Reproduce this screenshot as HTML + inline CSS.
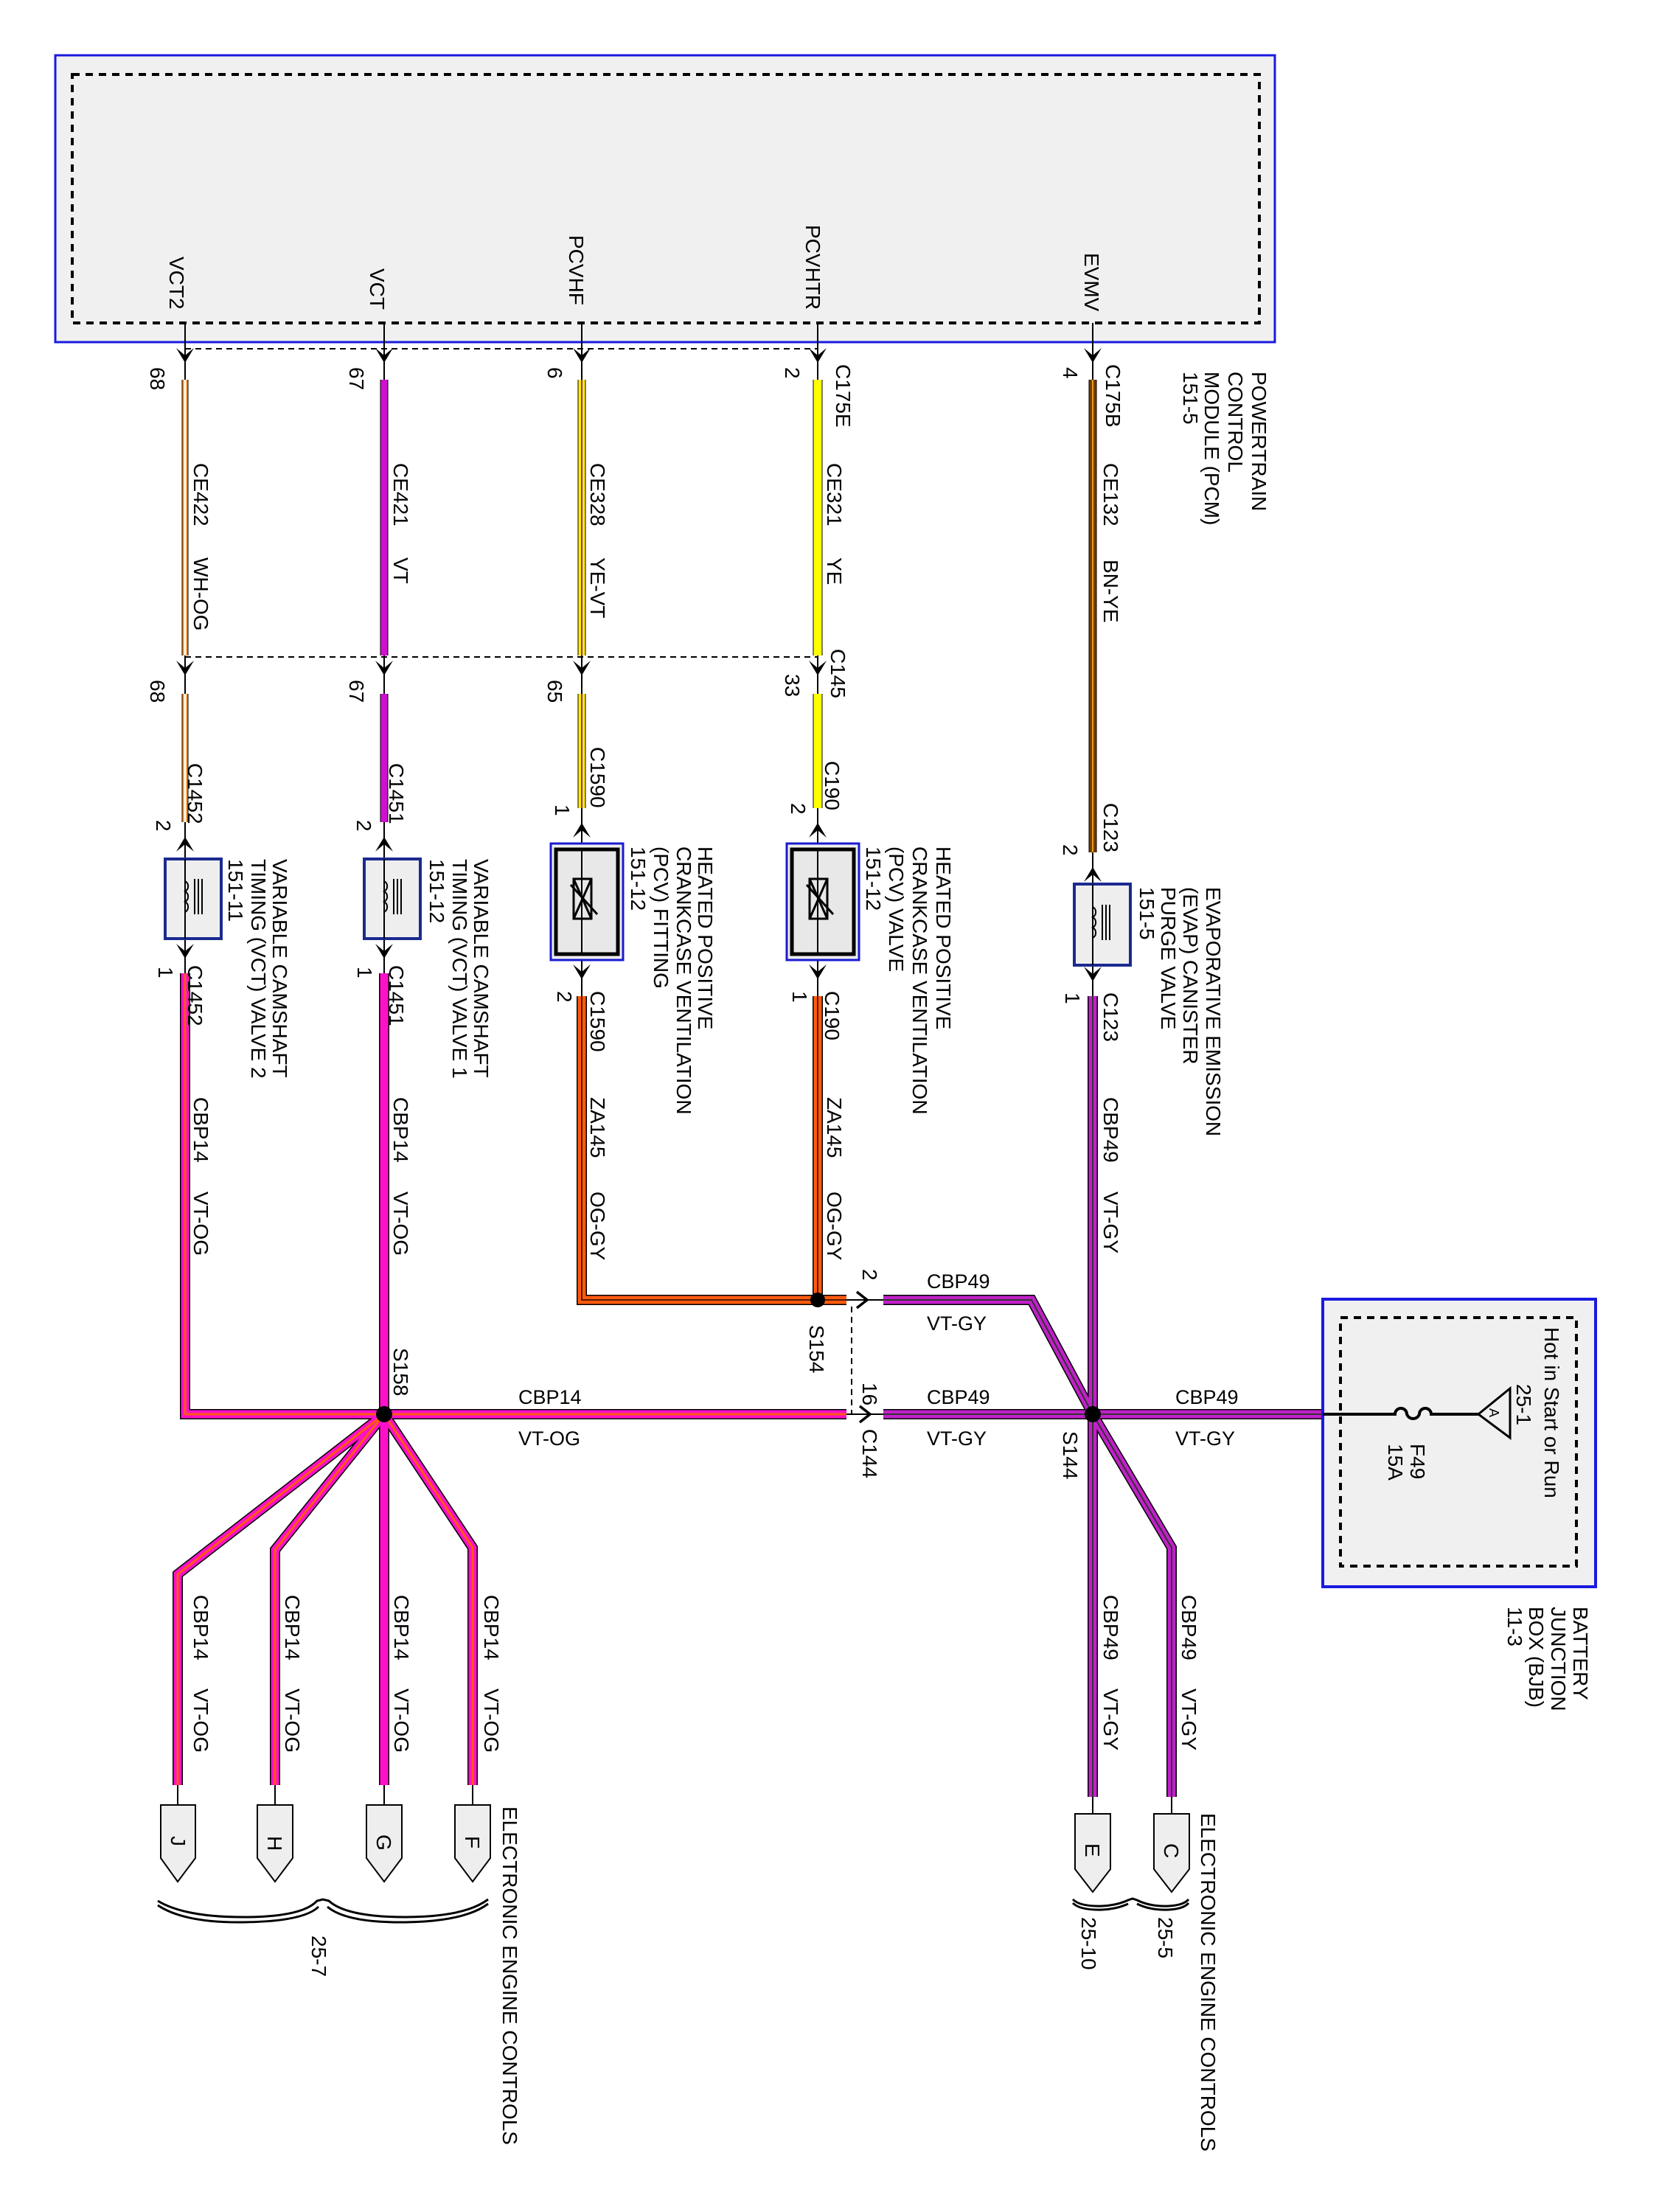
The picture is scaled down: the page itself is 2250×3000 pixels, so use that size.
<!DOCTYPE html>
<html><head><meta charset="utf-8"><style>
html,body{margin:0;padding:0;background:#fff}
svg{display:block}
text{font-family:"Liberation Sans",Arial,sans-serif;font-size:28px;fill:#000}
.h{font-size:27px}
</style></head><body>
<svg width="2250" height="3000" viewBox="0 0 2250 3000" xmlns="http://www.w3.org/2000/svg">
<defs>
<g id="ad"><polygon points="-12,-20 0,0 12,-20 0,-10" fill="#000"/></g>
<g id="au"><polygon points="-12,20 0,0 12,20 0,10" fill="#000"/></g>
<g id="ar"><polyline points="-14,-11 0,0 -14,11" fill="none" stroke="#000" stroke-width="3.5"/></g>
</defs>

<rect x="75" y="75" width="1654" height="389" fill="#f0f0f0" stroke="#1a1ae0" stroke-width="3"/>
<rect x="98" y="101" width="1610" height="337" fill="none" stroke="#000" stroke-width="4" stroke-dasharray="10,8"/>
<g transform="translate(230,348) rotate(90)"><text>VCT2</text></g>
<g transform="translate(502,364) rotate(90)"><text>VCT</text></g>
<g transform="translate(772,319) rotate(90)"><text>PCVHF</text></g>
<g transform="translate(1093,305) rotate(90)"><text>PCVHTR</text></g>
<g transform="translate(1471,343) rotate(90)"><text>EVMV</text></g>
<g transform="translate(1698,504) rotate(90)"><text>POWERTRAIN</text></g>
<g transform="translate(1666,504) rotate(90)"><text>CONTROL</text></g>
<g transform="translate(1634,504) rotate(90)"><text>MODULE (PCM)</text></g>
<g transform="translate(1605,504) rotate(90)"><text>151-5</text></g>

<line x1="251" y1="473" x2="1109" y2="473" stroke="#000" stroke-width="2" stroke-dasharray="8,6"/>
<line x1="251" y1="891" x2="1109" y2="891" stroke="#000" stroke-width="2" stroke-dasharray="8,6"/>

<g stroke="#000" stroke-width="2">
<line x1="251" y1="438" x2="251" y2="1330"/>
<line x1="521" y1="438" x2="521" y2="1330"/>
<line x1="789" y1="438" x2="789" y2="1360"/>
<line x1="1109" y1="438" x2="1109" y2="1360"/>
<line x1="1482" y1="438" x2="1482" y2="1360"/>
<line x1="1148" y1="1763" x2="1200" y2="1763"/>
<line x1="1148" y1="1918" x2="1200" y2="1918"/>
<line x1="241" y1="2421" x2="241" y2="2450"/>
<line x1="373" y1="2421" x2="373" y2="2450"/>
<line x1="521" y1="2421" x2="521" y2="2450"/>
<line x1="641" y1="2421" x2="641" y2="2450"/>
<line x1="1482" y1="2437" x2="1482" y2="2460"/>
<line x1="1589" y1="2437" x2="1589" y2="2460"/>
</g>
<line x1="1155" y1="1772" x2="1155" y2="1918" stroke="#000" stroke-width="2" stroke-dasharray="8,6"/>

<g fill="none">
<path d="M251,515V889M251,941V1115" stroke="#000" stroke-width="9"/>
<path d="M251,515V889M251,941V1115" stroke="#ff8c1a" stroke-width="7"/>
<path d="M251,515V889M251,941V1115" stroke="#fff" stroke-width="3"/>
<path d="M521,515V889M521,941V1115" stroke="#000" stroke-width="11"/>
<path d="M521,515V889M521,941V1115" stroke="#d010d0" stroke-width="9"/>
<path d="M789,515V889M789,941V1096" stroke="#000" stroke-width="11"/>
<path d="M789,515V889M789,941V1096" stroke="#ffee00" stroke-width="9"/>
<path d="M789,515V889M789,941V1096" stroke="#a020a0" stroke-width="2"/>
<path d="M1109,515V889M1109,941V1096" stroke="#000" stroke-width="13"/>
<path d="M1109,515V889M1109,941V1096" stroke="#ffff00" stroke-width="11"/>
<path d="M1482,515V1156" stroke="#000" stroke-width="11"/>
<path d="M1482,515V1156" stroke="#7a3a00" stroke-width="9"/>
<path d="M1482,515V1156" stroke="#e0a020" stroke-width="2"/>

<path d="M789,1351V1763H1109M1109,1351V1763H1148" stroke="#000" stroke-width="14"/>
<path d="M789,1351V1763H1109M1109,1351V1763H1148" stroke="#ff5a10" stroke-width="11"/>
<path d="M789,1351V1763H1109M1109,1351V1763H1148" stroke="#5a1a00" stroke-width="2"/>

<path d="M251,1320V1918H1148M521,1320V1918M521,1918L241,2135V2421M521,1918L373,2102V2421M521,1918V2421M521,1918L641,2099V2421" stroke="#000" stroke-width="14"/>
<path d="M251,1320V1918H1148M521,1320V1918M521,1918L241,2135V2421M521,1918L373,2102V2421M521,1918V2421M521,1918L641,2099V2421" stroke="#ff10c8" stroke-width="11"/>
<path d="M251,1320V1918H1148M521,1918L241,2135V2421M521,1918L373,2102V2421M521,1918L641,2099V2421" stroke="#ff5a10" stroke-width="3"/>

<path d="M1482,1351V2437M1198,1763H1399L1482,1918L1589,2099V2437M1198,1918H1794" stroke="#000" stroke-width="14"/>
<path d="M1482,1351V2437M1198,1763H1399L1482,1918L1589,2099V2437M1198,1918H1794" stroke="#c020c8" stroke-width="11"/>
<path d="M1482,1351V2437M1198,1763H1399L1482,1918L1589,2099V2437M1198,1918H1794" stroke="#333" stroke-width="2"/>
</g>

<use href="#ad" x="251" y="492"/><use href="#ad" x="521" y="492"/><use href="#ad" x="789" y="492"/><use href="#ad" x="1109" y="492"/><use href="#ad" x="1482" y="492"/>
<use href="#ad" x="251" y="916"/><use href="#ad" x="521" y="916"/><use href="#ad" x="789" y="916"/><use href="#ad" x="1109" y="916"/>
<use href="#au" x="251" y="1135"/><use href="#au" x="521" y="1135"/><use href="#au" x="789" y="1116"/><use href="#au" x="1109" y="1116"/><use href="#au" x="1482" y="1176"/>
<use href="#ad" x="251" y="1300"/><use href="#ad" x="521" y="1300"/><use href="#ad" x="789" y="1328"/><use href="#ad" x="1109" y="1328"/><use href="#ad" x="1482" y="1331"/>
<use href="#ar" x="1176" y="1763"/><use href="#ar" x="1180" y="1918"/>

<g>
<rect x="224" y="1165" width="76" height="108" fill="#eee" stroke="#1a2a90" stroke-width="4"/>
<rect x="494" y="1165" width="76" height="108" fill="#eee" stroke="#1a2a90" stroke-width="4"/>
<rect x="1457" y="1199" width="76" height="110" fill="#eee" stroke="#1a2a90" stroke-width="4"/>
<g fill="none" stroke="#000" stroke-width="2">
<line x1="251" y1="1165" x2="251" y2="1273"/><line x1="521" y1="1165" x2="521" y2="1273"/><line x1="1482" y1="1199" x2="1482" y2="1309"/>
<path d="M251,1195a8,8 0 0 1 0,14a8,8 0 0 1 0,14a8,8 0 0 1 0,14M264,1192v48M269,1192v48M274,1192v48"/>
<path d="M521,1195a8,8 0 0 1 0,14a8,8 0 0 1 0,14a8,8 0 0 1 0,14M534,1192v48M539,1192v48M544,1192v48"/>
<path d="M1482,1230a8,8 0 0 1 0,14a8,8 0 0 1 0,14a8,8 0 0 1 0,14M1495,1227v48M1500,1227v48M1505,1227v48"/>
</g>
</g>
<g>
<rect x="747" y="1144" width="98" height="158" fill="#eee" stroke="#1a1ad0" stroke-width="3"/>
<rect x="754" y="1152" width="84" height="142" fill="#e8e8e8" stroke="#000" stroke-width="5"/>
<line x1="789" y1="1152" x2="789" y2="1294" stroke="#000" stroke-width="2"/>
<rect x="778" y="1192" width="24" height="54" fill="none" stroke="#000" stroke-width="3"/>
<path d="M778,1192L802,1246M802,1192L778,1246M774,1200L810,1240" stroke="#000" stroke-width="3" fill="none"/>
<rect x="1067" y="1144" width="98" height="158" fill="#eee" stroke="#1a1ad0" stroke-width="3"/>
<rect x="1074" y="1152" width="84" height="142" fill="#e8e8e8" stroke="#000" stroke-width="5"/>
<line x1="1109" y1="1152" x2="1109" y2="1294" stroke="#000" stroke-width="2"/>
<rect x="1098" y="1192" width="24" height="54" fill="none" stroke="#000" stroke-width="3"/>
<path d="M1098,1192L1122,1246M1122,1192L1098,1246M1094,1200L1130,1240" stroke="#000" stroke-width="3" fill="none"/>
</g>

<circle cx="1109" cy="1763" r="10" fill="#000"/>
<circle cx="521" cy="1918" r="11" fill="#000"/>
<circle cx="1482" cy="1918" r="11" fill="#000"/>

<rect x="1794" y="1762" width="370" height="390" fill="#f0f0f0" stroke="#1a1ae0" stroke-width="4"/>
<rect x="1818" y="1787" width="320" height="337" fill="none" stroke="#000" stroke-width="4" stroke-dasharray="10,8"/>
<path d="M1794,1918H1892a8,8 0 0 1 16,0a9,9 0 0 0 17,0a8,8 0 0 1 16,0H2005" fill="none" stroke="#000" stroke-width="4"/>
<polygon points="2005,1918 2048,1883 2048,1950" fill="none" stroke="#000" stroke-width="3"/>
<g transform="translate(2020,1910) rotate(90)"><text style="font-size:18px">A</text></g>
<g transform="translate(2095,1800) rotate(90)"><text>Hot in Start or Run</text></g>
<g transform="translate(2057,1877) rotate(90)"><text>25-1</text></g>
<g transform="translate(1913,1958) rotate(90)"><text>F49</text></g>
<g transform="translate(1883,1958) rotate(90)"><text>15A</text></g>
<g transform="translate(2134,2179) rotate(90)"><text>BATTERY</text></g>
<g transform="translate(2104,2179) rotate(90)"><text>JUNCTION</text></g>
<g transform="translate(2074,2179) rotate(90)"><text>BOX (BJB)</text></g>
<g transform="translate(2045,2179) rotate(90)"><text>11-3</text></g>

<g fill="#eee" stroke="#000" stroke-width="2">
<path d="M218,2448H265V2520L241,2552L218,2520Z"/>
<path d="M349,2448H397V2520L373,2552L349,2520Z"/>
<path d="M497,2448H545V2520L521,2552L497,2520Z"/>
<path d="M617,2448H665V2520L641,2552L617,2520Z"/>
<path d="M1458,2460H1506V2535L1482,2566L1458,2535Z"/>
<path d="M1565,2460H1613V2535L1589,2566L1565,2535Z"/>
</g>
<g transform="translate(232,2490) rotate(90)"><text>J</text></g>
<g transform="translate(363,2490) rotate(90)"><text>H</text></g>
<g transform="translate(511,2488) rotate(90)"><text>G</text></g>
<g transform="translate(631,2490) rotate(90)"><text>F</text></g>
<g transform="translate(1472,2500) rotate(90)"><text>E</text></g>
<g transform="translate(1579,2500) rotate(90)"><text>C</text></g>

<g fill="none" stroke="#000" stroke-width="3">
<path d="M214,2578Q250,2600 330,2600Q410,2600 430,2578L438,2576L446,2578Q470,2600 550,2600Q630,2600 662,2576"/>
<path d="M214,2584Q250,2608 330,2607Q412,2606 432,2586M444,2586Q470,2608 550,2607Q630,2606 662,2582"/>
<path d="M1455,2576Q1465,2586 1495,2585Q1515,2584 1530,2577L1536,2575L1542,2577Q1560,2586 1585,2585Q1605,2584 1612,2576"/>
<path d="M1455,2581Q1465,2591 1495,2590Q1515,2589 1530,2582M1542,2582Q1560,2591 1585,2590Q1605,2589 1612,2581"/>
</g>

<g>
<g transform="translate(204,498) rotate(90)"><text>68</text></g>
<g transform="translate(474,498) rotate(90)"><text>67</text></g>
<g transform="translate(743,498) rotate(90)"><text>6</text></g>
<g transform="translate(1065,498) rotate(90)"><text>2</text></g>
<g transform="translate(1442,498) rotate(90)"><text>4</text></g>
<g transform="translate(1134,494) rotate(90)"><text>C175E</text></g>
<g transform="translate(1500,494) rotate(90)"><text>C175B</text></g>

<g transform="translate(263,628) rotate(90)"><text>CE422</text></g>
<g transform="translate(263,756) rotate(90)"><text>WH-OG</text></g>
<g transform="translate(534,628) rotate(90)"><text>CE421</text></g>
<g transform="translate(534,756) rotate(90)"><text>VT</text></g>
<g transform="translate(801,628) rotate(90)"><text>CE328</text></g>
<g transform="translate(801,756) rotate(90)"><text>YE-VT</text></g>
<g transform="translate(1122,628) rotate(90)"><text>CE321</text></g>
<g transform="translate(1122,756) rotate(90)"><text>YE</text></g>
<g transform="translate(1497,628) rotate(90)"><text>CE132</text></g>
<g transform="translate(1497,759) rotate(90)"><text>BN-YE</text></g>

<g transform="translate(1127,880) rotate(90)"><text>C145</text></g>
<g transform="translate(204,922) rotate(90)"><text>68</text></g>
<g transform="translate(474,922) rotate(90)"><text>67</text></g>
<g transform="translate(743,922) rotate(90)"><text>65</text></g>
<g transform="translate(1065,914) rotate(90)"><text>33</text></g>

<g transform="translate(255,1035) rotate(90)"><text>C1452</text></g>
<g transform="translate(212,1112) rotate(90)"><text>2</text></g>
<g transform="translate(370,1165) rotate(90)"><text>VARIABLE CAMSHAFT</text></g>
<g transform="translate(341,1165) rotate(90)"><text>TIMING (VCT) VALVE 2</text></g>
<g transform="translate(310,1165) rotate(90)"><text>151-11</text></g>
<g transform="translate(215,1311) rotate(90)"><text>1</text></g>
<g transform="translate(255,1309) rotate(90)"><text>C1452</text></g>
<g transform="translate(263,1488) rotate(90)"><text>CBP14</text></g>
<g transform="translate(263,1616) rotate(90)"><text>VT-OG</text></g>

<g transform="translate(528,1035) rotate(90)"><text>C1451</text></g>
<g transform="translate(484,1112) rotate(90)"><text>2</text></g>
<g transform="translate(643,1165) rotate(90)"><text>VARIABLE CAMSHAFT</text></g>
<g transform="translate(614,1165) rotate(90)"><text>TIMING (VCT) VALVE 1</text></g>
<g transform="translate(583,1165) rotate(90)"><text>151-12</text></g>
<g transform="translate(485,1311) rotate(90)"><text>1</text></g>
<g transform="translate(528,1309) rotate(90)"><text>C1451</text></g>
<g transform="translate(534,1488) rotate(90)"><text>CBP14</text></g>
<g transform="translate(534,1616) rotate(90)"><text>VT-OG</text></g>

<g transform="translate(801,1013) rotate(90)"><text>C1590</text></g>
<g transform="translate(753,1091) rotate(90)"><text>1</text></g>
<g transform="translate(947,1148) rotate(90)"><text>HEATED POSITIVE</text></g>
<g transform="translate(918,1148) rotate(90)"><text>CRANKCASE VENTILATION</text></g>
<g transform="translate(887,1148) rotate(90)"><text>(PCV) FITTING</text></g>
<g transform="translate(856,1148) rotate(90)"><text>151-12</text></g>
<g transform="translate(756,1344) rotate(90)"><text>2</text></g>
<g transform="translate(801,1344) rotate(90)"><text>C1590</text></g>
<g transform="translate(801,1488) rotate(90)"><text>ZA145</text></g>
<g transform="translate(801,1616) rotate(90)"><text>OG-GY</text></g>

<g transform="translate(1119,1032) rotate(90)"><text>C190</text></g>
<g transform="translate(1073,1089) rotate(90)"><text>2</text></g>
<g transform="translate(1270,1148) rotate(90)"><text>HEATED POSITIVE</text></g>
<g transform="translate(1238,1148) rotate(90)"><text>CRANKCASE VENTILATION</text></g>
<g transform="translate(1206,1148) rotate(90)"><text>(PCV) VALVE</text></g>
<g transform="translate(1175,1148) rotate(90)"><text>151-12</text></g>
<g transform="translate(1075,1344) rotate(90)"><text>1</text></g>
<g transform="translate(1119,1344) rotate(90)"><text>C190</text></g>
<g transform="translate(1122,1488) rotate(90)"><text>ZA145</text></g>
<g transform="translate(1122,1616) rotate(90)"><text>OG-GY</text></g>

<g transform="translate(1497,1089) rotate(90)"><text>C123</text></g>
<g transform="translate(1442,1145) rotate(90)"><text>2</text></g>
<g transform="translate(1636,1203) rotate(90)"><text>EVAPORATIVE EMISSION</text></g>
<g transform="translate(1605,1203) rotate(90)"><text>(EVAP) CANISTER</text></g>
<g transform="translate(1575,1203) rotate(90)"><text>PURGE VALVE</text></g>
<g transform="translate(1546,1203) rotate(90)"><text>151-5</text></g>
<g transform="translate(1445,1346) rotate(90)"><text>1</text></g>
<g transform="translate(1497,1346) rotate(90)"><text>C123</text></g>
<g transform="translate(1497,1488) rotate(90)"><text>CBP49</text></g>
<g transform="translate(1497,1616) rotate(90)"><text>VT-GY</text></g>

<g transform="translate(1170,1721) rotate(90)"><text>2</text></g>
<g transform="translate(1170,1875) rotate(90)"><text>16</text></g>
<g transform="translate(1098,1797) rotate(90)"><text>S154</text></g>
<g transform="translate(534,1828) rotate(90)"><text>S158</text></g>
<g transform="translate(1442,1941) rotate(90)"><text>S144</text></g>
<g transform="translate(1170,1938) rotate(90)"><text>C144</text></g>

<g transform="translate(263,2163) rotate(90)"><text>CBP14</text></g>
<g transform="translate(263,2290) rotate(90)"><text>VT-OG</text></g>
<g transform="translate(387,2163) rotate(90)"><text>CBP14</text></g>
<g transform="translate(387,2290) rotate(90)"><text>VT-OG</text></g>
<g transform="translate(535,2163) rotate(90)"><text>CBP14</text></g>
<g transform="translate(535,2290) rotate(90)"><text>VT-OG</text></g>
<g transform="translate(657,2163) rotate(90)"><text>CBP14</text></g>
<g transform="translate(657,2290) rotate(90)"><text>VT-OG</text></g>
<g transform="translate(1497,2163) rotate(90)"><text>CBP49</text></g>
<g transform="translate(1497,2290) rotate(90)"><text>VT-GY</text></g>
<g transform="translate(1603,2163) rotate(90)"><text>CBP49</text></g>
<g transform="translate(1603,2290) rotate(90)"><text>VT-GY</text></g>

<g transform="translate(682,2450) rotate(90)"><text>ELECTRONIC ENGINE CONTROLS</text></g>
<g transform="translate(1629,2459) rotate(90)"><text>ELECTRONIC ENGINE CONTROLS</text></g>
<g transform="translate(423,2625) rotate(90)"><text>25-7</text></g>
<g transform="translate(1467,2600) rotate(90)"><text>25-10</text></g>
<g transform="translate(1571,2600) rotate(90)"><text>25-5</text></g>
</g>

<text class="h" x="1257" y="1747">CBP49</text>
<text class="h" x="1257" y="1804">VT-GY</text>
<text class="h" x="703" y="1904">CBP14</text>
<text class="h" x="703" y="1960">VT-OG</text>
<text class="h" x="1257" y="1904">CBP49</text>
<text class="h" x="1257" y="1960">VT-GY</text>
<text class="h" x="1594" y="1904">CBP49</text>
<text class="h" x="1594" y="1960">VT-GY</text>
</svg>
</body></html>
